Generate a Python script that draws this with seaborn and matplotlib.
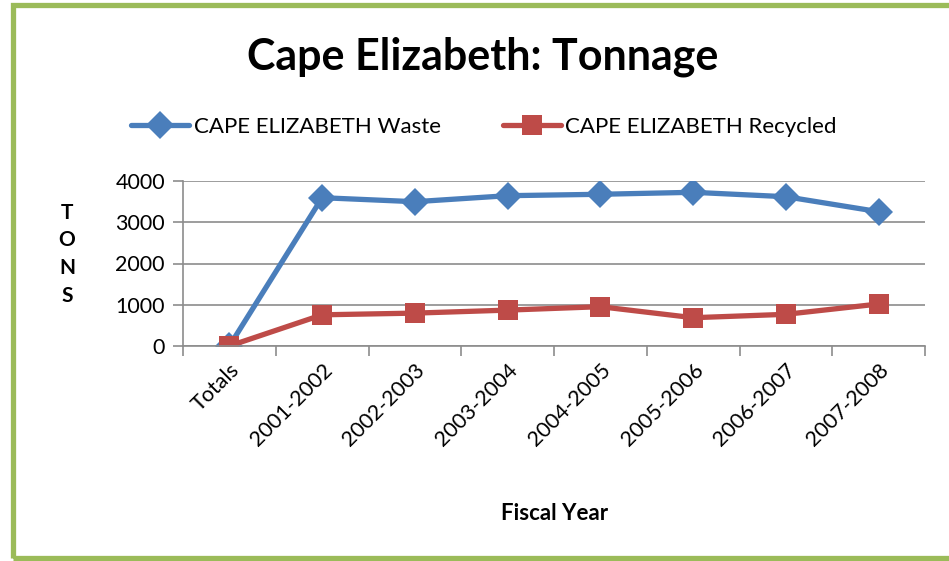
import numpy as np
import pandas as pd
import matplotlib
matplotlib.use("Agg")
import matplotlib.pyplot as plt
from matplotlib.patches import Rectangle
import seaborn as sns

# data
years = ["Totals", "2001-2002", "2002-2003", "2003-2004", "2004-2005",
         "2005-2006", "2006-2007", "2007-2008"]
waste = [0, 3595, 3498, 3644, 3678, 3726, 3619, 3256]
recycled = [0, 756, 797, 870, 953, 686, 768, 1018]
series_names = ["CAPE ELIZABETH Waste", "CAPE ELIZABETH Recycled"]
y_ticks = [0, 1000, 2000, 3000, 4000]

sns.set_theme(style="white")
plt.rcParams["font.family"] = ["Lato", "DejaVu Sans"]
plt.rcParams["text.color"] = "black"
plt.rcParams["xtick.color"] = "black"
plt.rcParams["ytick.color"] = "black"

df = pd.DataFrame({
    "pos": list(range(len(years))) * 2,
    "tons": waste + recycled,
    "series": [series_names[0]] * len(years) + [series_names[1]] * len(years),
})

fig = plt.figure(figsize=(9.49, 5.61), dpi=100)
ax = fig.add_axes([183 / 949, 1 - 346 / 561, (925 - 183) / 949, (346 - 181) / 561])

palette = {series_names[0]: "#4A7EBB", series_names[1]: "#BE4B48"}
sns.lineplot(data=df, x="pos", y="tons", hue="series", style="series",
             markers={series_names[0]: "D", series_names[1]: "s"}, dashes=False,
             palette=palette, linewidth=3.8, markersize=14, markeredgewidth=0,
             ax=ax, legend=True)

ax.set_xlim(-0.5, len(years) - 0.5)
ax.set_ylim(0, 4000)
ax.set_yticks(y_ticks)
ax.yaxis.grid(True, color="#8C8C8C", linewidth=1.2)
ax.set_axisbelow(True)
for s in ["top", "right"]:
    ax.spines[s].set_visible(False)
for s in ["left", "bottom"]:
    ax.spines[s].set_color("#8C8C8C")
    ax.spines[s].set_linewidth(1.2)

ax.set_xticks(range(len(years)))
ax.set_xticklabels(years, rotation=45, ha="right", va="top", rotation_mode="anchor")
ax.set_xticks(np.arange(-0.5, len(years), 1), minor=True)
ax.tick_params(axis="x", which="major", length=0, pad=10, labelsize=15.5, labelcolor="black")
ax.tick_params(axis="x", which="minor", length=7, width=1.2, color="#8C8C8C", direction="out", bottom=True)
ax.tick_params(axis="y", length=7, width=1.2, color="#8C8C8C", labelsize=15.5, pad=6,
               direction="out", left=True, labelcolor="black")
ax.set_xlabel("")
ax.set_ylabel("")

handles, labels = ax.get_legend_handles_labels()
ax.get_legend().remove()
fig.legend(handles, labels, loc="center", bbox_to_anchor=(484 / 949, 1 - 127 / 561),
           ncol=2, frameon=False, fontsize=16, handlelength=2.6, handletextpad=0.2,
           columnspacing=2.8)

fig.text(483 / 949, 1 - 57 / 561, "Cape Elizabeth: Tonnage", ha="center", va="center",
         fontsize=31, fontweight="bold")
fig.text(555 / 949, 1 - 514 / 561, "Fiscal Year", ha="center", va="center",
         fontsize=16, fontweight="bold")
for i, ch in enumerate("TONS"):
    fig.text(67 / 949, 1 - (213 + i * 27.5) / 561, ch, ha="center", va="center",
             fontsize=15, fontweight="bold")

# green frame around the chart area
fig.patches.append(Rectangle((12.5 / 949, 1 - 558 / 561), 960 / 949, (558 - 4.5) / 561,
                             transform=fig.transFigure, fill=False,
                             edgecolor="#9BBB59", linewidth=3.8))

fig.savefig("out.png", dpi=100)
